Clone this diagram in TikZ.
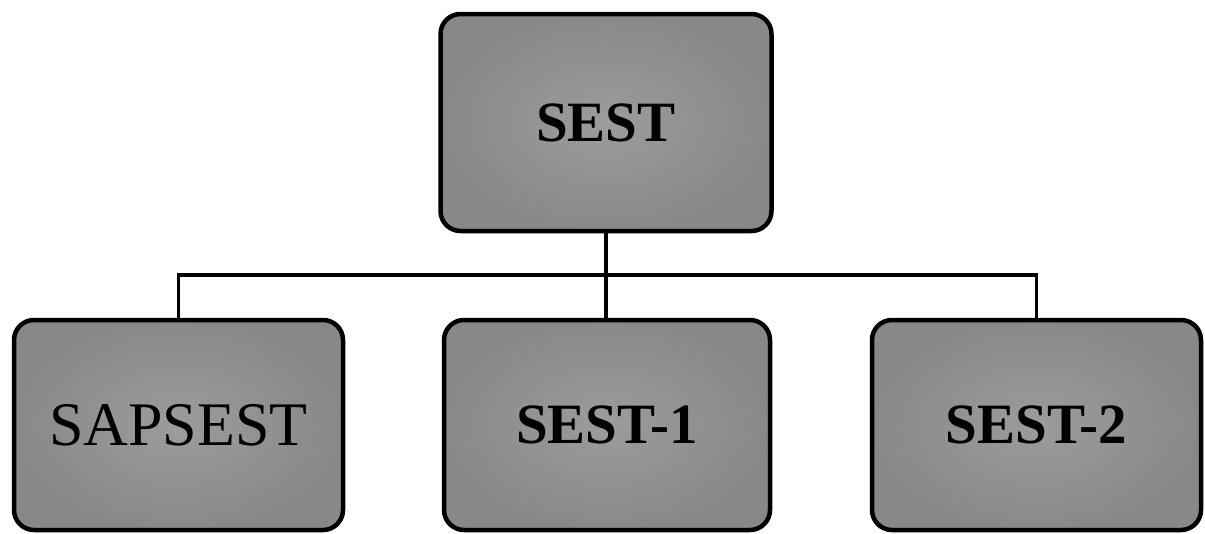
\documentclass[tikz,border=0pt]{standalone}
\usepackage{fontspec}
\setmainfont{Liberation Serif}
\definecolor{boxgray}{RGB}{136,136,136}
\definecolor{boxlight}{RGB}{156,156,156}
\tikzset{
  orgbox/.style={draw=black, line width=4.5pt, rounded corners=20pt,
    inner color=boxlight, outer color=boxgray, text=black,
    minimum width=329pt, minimum height=212pt, inner sep=0pt},
  boldlabel/.style={font=\fontsize{57}{60}\selectfont\bfseries},
  plainlabel/.style={font=\fontsize{62}{64}\selectfont},
  link/.style={draw=black, line width=3.5pt}
}
\begin{document}
\begin{tikzpicture}[x=1pt,y=-1pt]
\useasboundingbox (0,0) rectangle (1205,533);
\node[orgbox, boldlabel, minimum width=331pt, minimum height=217pt] (top) at (606,122.5) {SEST};
\node[orgbox, plainlabel, minimum height=210pt] (left) at (178.5,425) {SAPSEST};
\node[orgbox, boldlabel, minimum width=326pt, minimum height=210pt] (mid) at (607,425) {SEST-1};
\node[orgbox, boldlabel, minimum height=210pt] (right) at (1036.5,425) {SEST-2};
\coordinate (j) at (top.south |- 0,275);
\draw[link] (top.south) -- (j);
\draw[link] (left.north) |- (j) -| (right.north);
\draw[link] (j) -- (j |- mid.north);
\end{tikzpicture}
\end{document}
